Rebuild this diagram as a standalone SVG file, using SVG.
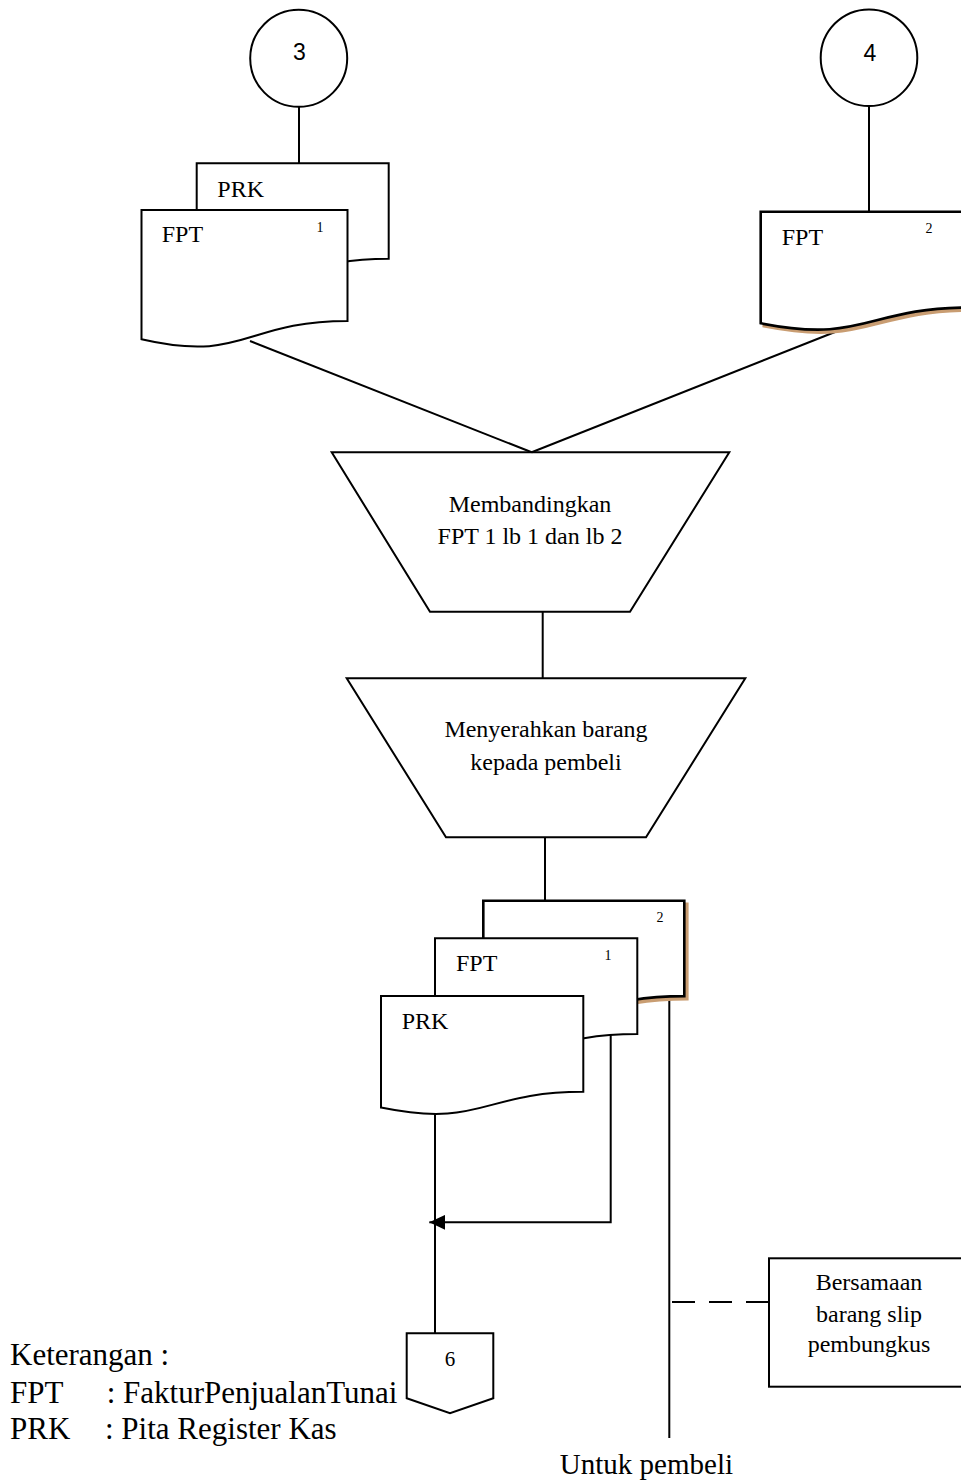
<svg xmlns="http://www.w3.org/2000/svg" width="961" height="1483" viewBox="0 0 961 1483">
<defs>
<style>
.sh{fill:none;stroke:#000;stroke-width:2}
.doc{fill:#fff;stroke:#000;stroke-width:2;stroke-linejoin:miter}
.docb{fill:#fff;stroke:#000;stroke-width:2.6}
.shadow{fill:#c99d72;stroke:#c99d72;stroke-width:2.6}
.ln{fill:none;stroke:#000;stroke-width:2}
.t{font-family:"Liberation Serif","Times New Roman",serif;font-size:24px;fill:#000}
.tc{font-family:"Liberation Serif","Times New Roman",serif;font-size:24px;fill:#000;text-anchor:middle}
.sm{font-family:"Liberation Serif","Times New Roman",serif;font-size:14px;fill:#000;text-anchor:middle}
.cn{font-family:"Liberation Sans",Arial,sans-serif;font-size:23px;fill:#000;text-anchor:middle}
.lg{font-family:"Liberation Serif","Times New Roman",serif;font-size:31px;fill:#000}
</style>
<marker id="ah" markerWidth="16" markerHeight="15" refX="16" refY="7.5" orient="auto" markerUnits="userSpaceOnUse">
<path d="M0,0 L16,7.5 L0,15 Z" fill="#000"/>
</marker>
</defs>
<rect x="0" y="0" width="961" height="1483" fill="#fff"/>

<g id="connectors">
<line class="ln" x1="299" y1="107" x2="299" y2="164"/>
<line class="ln" x1="869" y1="106" x2="869" y2="212"/>
<line class="ln" x1="250" y1="341" x2="531.7" y2="452.3"/>
<line class="ln" x1="840" y1="330" x2="531.7" y2="452.3"/>
<line class="ln" x1="542.7" y1="611.7" x2="542.7" y2="678.3"/>
<line class="ln" x1="545" y1="837.3" x2="545" y2="901"/>
<line class="ln" x1="435" y1="1114" x2="435" y2="1333.3"/>
<polyline class="ln" points="610.7,1035 610.7,1222.3 445,1222.3"/>
<line class="ln" x1="445" y1="1222.3" x2="429.3" y2="1222.3" marker-end="url(#ah)" stroke-width="0"/>
<line class="ln" x1="669.3" y1="996" x2="669.3" y2="1438"/>
<line class="ln" x1="769" y1="1302" x2="669.3" y2="1302" stroke-dasharray="23 14"/>
</g>

<g id="conn3">
<circle class="sh" cx="298.7" cy="58.3" r="48.5" fill="#fff"/>
<text class="cn" x="299.3" y="60">3</text>
</g>
<g id="conn4">
<circle class="sh" cx="869" cy="57.7" r="48.3" fill="#fff"/>
<text class="cn" x="870" y="60.5">4</text>
</g>

<g id="doc-prk-top">
<path class="doc" d="M196.7,163.3 H388.7 V258.7 C292.7,258.7 292.7,295 196.7,274.4 Z"/>
<text class="t" x="217.3" y="196.7">PRK</text>
</g>
<g id="doc-fpt1-top">
<path class="doc" d="M141.5,210 H347.5 V321 C244.5,321 244.5,363.2 141.5,339.3 Z"/>
<text class="t" x="161.7" y="241.7">FPT</text>
<text class="sm" x="320" y="232.3">1</text>
</g>
<g id="doc-fpt2-top">
<path class="shadow" d="M763.7,214.7 H973.7 V310.5 C868.7,310.5 868.7,347 763.7,326.3 Z"/>
<path class="docb" d="M760.7,211.7 H970.7 V307.5 C865.7,307.5 865.7,344 760.7,323.3 Z"/>
<text class="t" x="781.7" y="245">FPT</text>
<text class="sm" x="929" y="233">2</text>
</g>

<g id="proc-membandingkan">
<polygon class="sh" fill="#fff" points="331.7,452.3 729.3,452.3 630,611.7 430,611.7"/>
<text class="tc" x="530" y="511.7">Membandingkan</text>
<text class="tc" x="530" y="544.3">FPT 1 lb 1 dan lb 2</text>
</g>
<g id="proc-menyerahkan">
<polygon class="sh" fill="#fff" points="346.7,678.3 745.3,678.3 646,837.3 446,837.3"/>
<text class="tc" x="546" y="736.7">Menyerahkan barang</text>
<text class="tc" x="546" y="770">kepada pembeli</text>
</g>

<g id="doc-2-bottom">
<path class="shadow" d="M486.3,903.7 H687.3 V999.1 C586.8,999.1 586.8,1035.4 486.3,1014.8 Z"/>
<path class="docb" d="M483.3,900.7 H684.3 V996.1 C583.8,996.1 583.8,1032.4 483.3,1011.8 Z"/>
<text class="sm" x="660" y="922.3">2</text>
</g>
<g id="doc-fpt-bottom">
<path class="doc" d="M435,938.3 H637.3 V1034.1 C536.2,1034.1 536.2,1070.6 435,1049.9 Z"/>
<text class="t" x="456" y="970.7">FPT</text>
<text class="sm" x="608" y="960">1</text>
</g>
<g id="doc-prk-bottom">
<path class="doc" d="M381,996 H583.3 V1091.8 C482.2,1091.8 482.2,1128.3 381,1107.6 Z"/>
<text class="t" x="401.7" y="1029.3">PRK</text>
</g>

<g id="offpage-6">
<polygon class="sh" fill="#fff" points="406.7,1333.3 493.3,1333.3 493.3,1398.3 450,1413.3 406.7,1398.3"/>
<text class="tc" x="450" y="1365.7" style="font-size:21px">6</text>
</g>

<g id="note-bersamaan">
<rect class="sh" fill="#fff" x="769" y="1258.3" width="210" height="128.4"/>
<text class="tc" x="869" y="1290">Bersamaan</text>
<text class="tc" x="869" y="1321.7">barang slip</text>
<text class="tc" x="869" y="1351.7">pembungkus</text>
</g>

<g id="label-untuk">
<text class="t" x="733" y="1474" style="font-size:29px;text-anchor:end">Untuk pembeli</text>
</g>

<g id="legend">
<text class="lg" x="10" y="1365">Keterangan :</text>
<text class="lg" x="10" y="1402.7">FPT</text>
<text class="lg" x="106.7" y="1402.7">: FakturPenjualanTunai</text>
<text class="lg" x="10" y="1439">PRK</text>
<text class="lg" x="105" y="1439">: Pita Register Kas</text>
</g>
</svg>
